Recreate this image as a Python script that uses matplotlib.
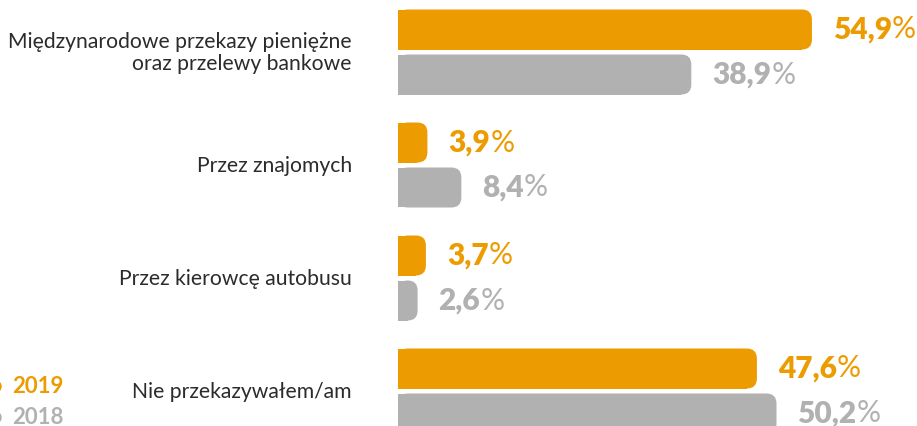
import matplotlib.pyplot as plt
from matplotlib.patches import FancyBboxPatch, Rectangle
from matplotlib.lines import Line2D

# Data
categories = ['Międzynarodowe przekazy pieniężne\noraz przelewy bankowe',
              'Przez znajomych',
              'Przez kierowcę autobusu',
              'Nie przekazywałem/am']
values_2019 = [54.9, 3.9, 3.7, 47.6]
values_2018 = [38.9, 8.4, 2.6, 50.2]
series_labels = ['2019', '2018']
series_colors = ['#EC9C00', '#B1B1B1']

plt.rcParams['font.family'] = ['Lato', 'DejaVu Sans']

W, H = 917, 427
fig = plt.figure(figsize=(W / 100, H / 100), dpi=100)
ax = fig.add_axes([398 / W, 0, (W - 398) / W, 1])
px_x = 7.54   # pixels per percent
px_y = 113.0  # pixels per group
ax.set_xlim(0, (W - 398) / px_x)
ax.set_ylim((H - 53) / px_y, -53 / px_y)
ax.axis('off')

bar_h = 40 / px_y
offset = 22.5 / px_y


def rounded_bar(ax, y, width, color, radius_px=10):
    r_px = min(radius_px, width * px_x / 2)
    r = r_px / px_x
    aspect = px_x / px_y
    box = FancyBboxPatch((0, y - bar_h / 2), width, bar_h,
                         boxstyle='round,pad=0,rounding_size={}'.format(r),
                         mutation_aspect=aspect, facecolor=color,
                         edgecolor='none')
    ax.add_patch(box)
    ax.add_patch(Rectangle((0, y - bar_h / 2), width - r, bar_h,
                           facecolor=color, edgecolor='none'))


def value_label(ax, y, v, color):
    t = ax.annotate('{:.1f}'.format(v).replace('.', ','), xy=(v, y),
                    xytext=(21, 1), textcoords='offset pixels',
                    ha='left', va='center', fontsize=21.5,
                    fontweight='heavy', color=color, annotation_clip=False)
    ax.annotate('%', xy=(1, y), xycoords=(t, 'data'), xytext=(0, 1),
                textcoords='offset pixels', ha='left', va='center',
                fontsize=21.5, fontweight='normal', color=color,
                annotation_clip=False)


for i, cat in enumerate(categories):
    for vals, color, sign in [(values_2019, series_colors[0], -1),
                              (values_2018, series_colors[1], 1)]:
        y = i + sign * offset
        rounded_bar(ax, y, vals[i], color)
        value_label(ax, y, vals[i], color)
    ax.annotate(cat, xy=(0, i), xytext=(-46, 0), textcoords='offset pixels',
                ha='right', va='center', fontsize=15.2, color='#2b2b2b',
                linespacing=1.08, annotation_clip=False)

# Legend (cut off on the left side)
for k, (lab, color) in enumerate(zip(series_labels, series_colors)):
    ypos = 1 - (387 + 31 * k) / H
    fig.add_artist(Line2D([-5 / W], [ypos], marker='o', markersize=8,
                          color=color, transform=fig.transFigure))
    fig.text(12 / W, ypos, lab, ha='left', va='center', fontsize=16,
             fontweight='bold', color=color)

fig.savefig('out.png', dpi=100)
